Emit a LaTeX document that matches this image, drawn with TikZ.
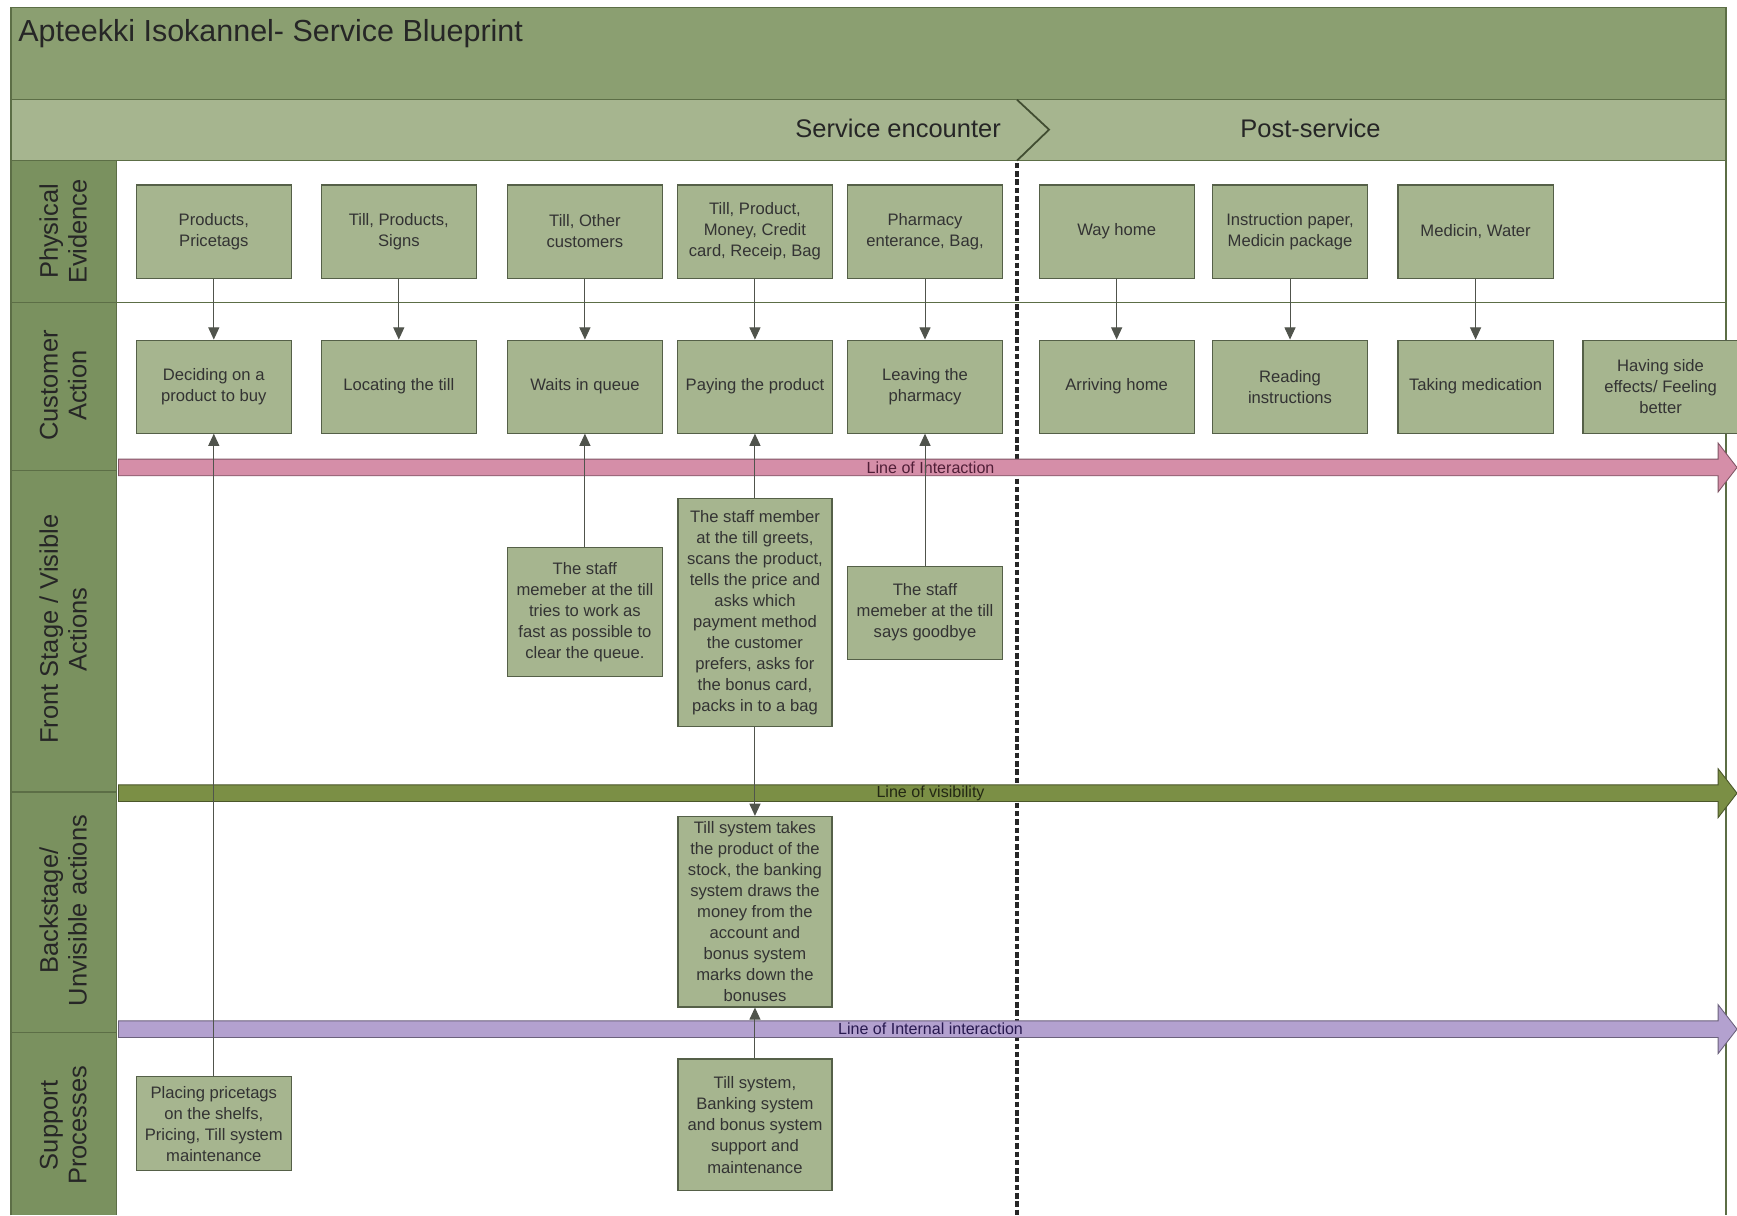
\documentclass[tikz,border=0pt]{standalone}
\usepackage{fontspec}
\setmainfont{Liberation Sans}
\usetikzlibrary{arrows.meta}

\definecolor{titlebar}{RGB}{139,159,113}
\definecolor{phasebar}{RGB}{166,181,143}
\definecolor{lanecol}{RGB}{122,145,95}
\definecolor{boxfill}{RGB}{166,181,143}
\definecolor{boxedge}{RGB}{85,96,72}
\definecolor{frameline}{RGB}{92,110,70}
\definecolor{linkgray}{RGB}{80,84,76}
\definecolor{interline}{RGB}{213,142,168}
\definecolor{intertext}{RGB}{80,30,55}
\definecolor{visline}{RGB}{123,143,69}
\definecolor{vistext}{RGB}{35,40,20}
\definecolor{internline}{RGB}{179,161,207}
\definecolor{interntext}{RGB}{40,25,80}

\begin{document}
\begin{tikzpicture}[x=1pt,y=-1pt,
  stepbox/.style={draw=boxedge, fill=boxfill, line width=1pt, minimum width=140pt,
    minimum height=84pt, inner sep=1pt, align=center,
    font=\fontsize{15}{19}\selectfont, text=black!80},
  lanelabel/.style={rotate=90, align=center, font=\fontsize{23}{26}\selectfont, text=black!85},
  phaselabel/.style={font=\fontsize{23}{26}\selectfont, text=black!85},
  bandtext/.style={font=\fontsize{14.5}{16}\selectfont, inner sep=0pt},
  link/.style={draw=linkgray, line width=0.9pt, -{Triangle[length=11pt,width=10pt]}}]

\useasboundingbox (0,0) rectangle (1568,1097);
\fill[white] (0,0) rectangle (1568,1097);

% header and phases
\draw[fill=titlebar, draw=frameline, line width=1.2pt] (10,7) rectangle (1558,90);
\draw[fill=phasebar, draw=frameline, line width=1.2pt] (10,90) rectangle (1558,145);
\draw[frameline!70!black, line width=1.6pt] (918,90) -- (947,117) -- (918,145);
\node[anchor=west, font=\fontsize{27.5}{30}\selectfont, text=black!85] (title) at (13,30)
  {Apteekki Isokannel- Service Blueprint};
\node[phaselabel, anchor=east] (encounter) at (907,116) {Service encounter};
\node[phaselabel] (post) at (1183,116) {Post-service};

% lane column
\draw[fill=lanecol, draw=frameline, line width=1.2pt]
  (10,1097) -- (10,145) -- (105,145) -- (105,1097);
\draw[frameline, line width=1.2pt] (1558,145) -- (1558,1097);
\foreach \yy in {425,715,932}
  \draw[frameline, line width=1.2pt] (10,\yy) -- (105,\yy);
\draw[frameline, line width=1.2pt] (10,273) -- (1558,273);

\node[lanelabel] (lpe) at (57,209) {Physical\\Evidence};
\node[lanelabel] (lca) at (57,348) {Customer\\Action};
\node[lanelabel] (lfs) at (57,568) {Front Stage / Visible\\Actions};
\node[lanelabel] (lbs) at (57,822) {Backstage/\\Unvisible actions};
\node[lanelabel] (lsp) at (57,1016) {Support\\Processes};

% phase divider
\draw[black!85, line width=3.4pt, dash pattern=on 5pt off 2.5pt] (918,147) -- (918,1097);

% lines of interaction, visibility, internal interaction
\foreach \yy/\col/\tcol/\txt/\nm in {422/interline/intertext/Line of Interaction/loi,
    716/visline/vistext/Line of visibility/lov,
    929/internline/interntext/Line of Internal interaction/lii}
{
  \draw[fill=\col, draw=\col!60!black, line width=0.8pt]
    (107,\yy-7.5) -- (1551,\yy-7.5) -- (1551,\yy-22) -- (1568,\yy)
    -- (1551,\yy+22) -- (1551,\yy+7.5) -- (107,\yy+7.5) -- cycle;
  \node[bandtext, text=\tcol] (\nm) at (840,\yy) {\txt};
}

% physical evidence
\node[stepbox] (pe1) at (193,209) {Products,\\Pricetags};
\node[stepbox] (pe2) at (360,209) {Till, Products,\\Signs};
\node[stepbox] (pe3) at (528,209) {Till, Other\\customers};
\node[stepbox] (pe4) at (681.5,209) {Till, Product,\\Money, Credit\\card, Receip, Bag};
\node[stepbox] (pe5) at (835,209) {Pharmacy\\enterance, Bag,};
\node[stepbox] (pe6) at (1008,209) {Way home};
\node[stepbox] (pe7) at (1164.5,209) {Instruction paper,\\Medicin package};
\node[stepbox] (pe8) at (1332,209) {Medicin, Water};

% customer actions
\node[stepbox] (ca1) at (193,349) {Deciding on a\\product to buy};
\node[stepbox] (ca2) at (360,349) {Locating the till};
\node[stepbox] (ca3) at (528,349) {Waits in queue};
\node[stepbox] (ca4) at (681.5,349) {Paying the product};
\node[stepbox] (ca5) at (835,349) {Leaving the\\pharmacy};
\node[stepbox] (ca6) at (1008,349) {Arriving home};
\node[stepbox] (ca7) at (1164.5,349) {Reading\\instructions};
\node[stepbox] (ca8) at (1332,349) {Taking medication};
\node[stepbox] (ca9) at (1499,349) {Having side\\effects/ Feeling\\better};

% front stage
\node[stepbox, minimum height=117pt] (fs3) at (528,552.5)
  {The staff\\memeber at the till\\tries to work as\\fast as possible to\\clear the queue.};
\node[stepbox, minimum width=139pt, minimum height=206pt] (fs4) at (681.5,553)
  {The staff member\\at the till greets,\\scans the product,\\tells the price and\\asks which\\payment method\\the customer\\prefers, asks for\\the bonus card,\\packs in to a bag};
\node[stepbox] (fs5) at (835,553) {The staff\\memeber at the till\\says goodbye};

% backstage
\node[stepbox, minimum width=139pt, minimum height=172pt] (bs4) at (681.5,823)
  {Till system takes\\the product of the\\stock, the banking\\system draws the\\money from the\\account and\\bonus system\\marks down the\\bonuses};

% support
\node[stepbox, minimum height=85pt] (sp1) at (193,1014.5)
  {Placing pricetags\\on the shelfs,\\Pricing, Till system\\maintenance};
\node[stepbox, minimum width=139pt, minimum height=119pt] (sp4) at (681.5,1015.5)
  {Till system,\\Banking system\\and bonus system\\support and\\maintenance};

% connectors
\foreach \i in {1,...,8}
  \draw[link] (pe\i) -- (ca\i);
\draw[link] (fs3) -- (ca3);
\draw[link] (fs4) -- (ca4);
\draw[link] (fs5) -- (ca5);
\draw[link] (fs4) -- (bs4);
\draw[link] (sp4) -- (bs4);
\draw[link] (sp1) -- (ca1);
\end{tikzpicture}
\end{document}
